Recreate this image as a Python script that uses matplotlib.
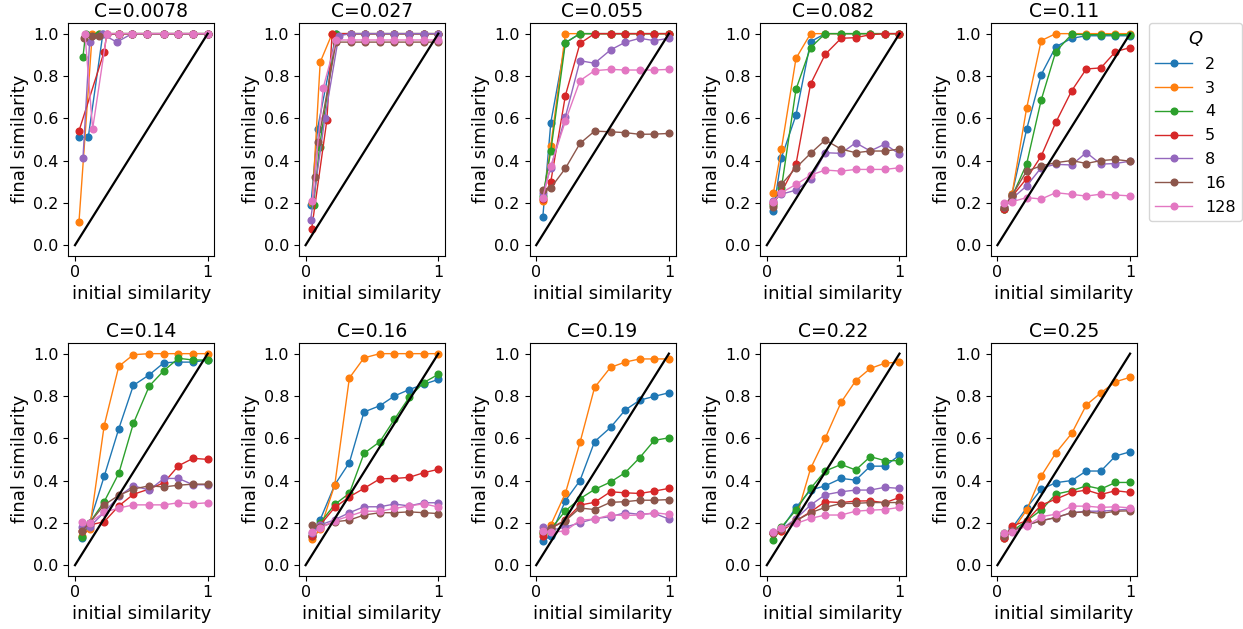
import matplotlib
matplotlib.use("Agg")
import matplotlib.pyplot as plt

# Number of states Q for each curve and the coupling C of each panel
q_values = [2, 3, 4, 5, 8, 16, 128]
c_labels = ["0.0078", "0.027", "0.055", "0.082", "0.11",
            "0.14", "0.16", "0.19", "0.22", "0.25"]
q_colors = ["#1f77b4", "#ff7f0e", "#2ca02c", "#d62728",
            "#9467bd", "#8c564b", "#e377c2"]

# Initial similarity grid shared by most panels
init_grid = [0.05, 0.11, 0.22, 0.33, 0.44, 0.56, 0.67, 0.78, 0.89, 1.0]

# C = 0.0078 (measured initial similarities differ per Q)
init_c0078 = [
    [0.03, 0.10, 0.21, 0.33, 0.43, 0.54, 0.67, 0.78, 0.89, 1.0],
    [0.03, 0.13, 0.18, 0.33, 0.43, 0.54, 0.67, 0.78, 0.89, 1.0],
    [0.06, 0.08, 0.18, 0.33, 0.43, 0.54, 0.67, 0.78, 0.89, 1.0],
    [0.03, 0.22, 0.24, 0.33, 0.43, 0.54, 0.67, 0.78, 0.89, 1.0],
    [0.06, 0.11, 0.20, 0.315, 0.43, 0.54, 0.67, 0.78, 0.89, 1.0],
    [0.07, 0.13, 0.18, 0.33, 0.43, 0.54, 0.67, 0.78, 0.89, 1.0],
    [0.075, 0.133, 0.24, 0.33, 0.43, 0.54, 0.67, 0.78, 0.89, 1.0],
]
final_c0078 = [
    [0.51, 0.51, 1.0, 1.0, 1.0, 1.0, 1.0, 1.0, 1.0, 1.0],
    [0.11, 1.0, 1.0, 1.0, 1.0, 1.0, 1.0, 1.0, 1.0, 1.0],
    [0.89, 1.0, 1.0, 1.0, 1.0, 1.0, 1.0, 1.0, 1.0, 1.0],
    [0.54, 0.915, 1.0, 1.0, 1.0, 1.0, 1.0, 1.0, 1.0, 1.0],
    [0.41, 0.96, 1.0, 0.96, 1.0, 1.0, 1.0, 1.0, 1.0, 1.0],
    [0.98, 0.99, 0.99, 1.0, 1.0, 1.0, 1.0, 1.0, 1.0, 1.0],
    [1.0, 0.55, 1.0, 1.0, 1.0, 1.0, 1.0, 1.0, 1.0, 1.0],
]

# C = 0.027
init_c027 = [
    [0.04, 0.09, 0.23, 0.34, 0.45, 0.56, 0.67, 0.78, 0.89, 1.0],
    [0.05, 0.11, 0.20, 0.34, 0.45, 0.56, 0.67, 0.78, 0.89, 1.0],
    [0.06, 0.105, 0.23, 0.34, 0.45, 0.56, 0.67, 0.78, 0.89, 1.0],
    [0.045, 0.16, 0.20, 0.34, 0.45, 0.56, 0.67, 0.78, 0.89, 1.0],
    [0.038, 0.145, 0.25, 0.34, 0.45, 0.56, 0.67, 0.78, 0.89, 1.0],
    [0.068, 0.095, 0.23, 0.34, 0.45, 0.56, 0.67, 0.78, 0.89, 1.0],
    [0.05, 0.133, 0.23, 0.34, 0.45, 0.56, 0.67, 0.78, 0.89, 1.0],
]
final_c027 = [
    [0.19, 0.55, 1.0, 1.0, 1.0, 1.0, 1.0, 1.0, 1.0, 1.0],
    [0.20, 0.865, 1.0, 1.0, 1.0, 1.0, 1.0, 1.0, 1.0, 1.0],
    [0.19, 0.465, 1.0, 1.0, 1.0, 1.0, 1.0, 1.0, 1.0, 1.0],
    [0.074, 0.59, 1.0, 1.0, 1.0, 1.0, 1.0, 1.0, 1.0, 1.0],
    [0.12, 0.60, 0.99, 1.0, 1.0, 1.0, 1.0, 1.0, 1.0, 1.0],
    [0.32, 0.49, 0.96, 0.96, 0.96, 0.96, 0.96, 0.96, 0.96, 0.96],
    [0.21, 0.745, 0.97, 0.97, 0.97, 0.97, 0.97, 0.97, 0.97, 0.97],
]

final_c055 = [
    [0.134, 0.579, 0.957, 1.0, 1.0, 1.0, 1.0, 1.0, 1.0, 1.0],
    [0.208, 0.47, 1.0, 1.0, 1.0, 1.0, 1.0, 1.0, 1.0, 1.0],
    [0.23, 0.445, 0.957, 1.0, 1.0, 1.0, 1.0, 1.0, 1.0, 1.0],
    [0.22, 0.30, 0.707, 0.954, 1.0, 1.0, 1.0, 1.0, 1.0, 1.0],
    [0.245, 0.366, 0.607, 0.872, 0.86, 0.923, 0.959, 0.978, 0.967, 0.978],
    [0.26, 0.271, 0.363, 0.481, 0.539, 0.536, 0.532, 0.524, 0.525, 0.528],
    [0.225, 0.374, 0.587, 0.778, 0.825, 0.831, 0.828, 0.828, 0.828, 0.831],
]

final_c082 = [
    [0.162, 0.413, 0.615, 0.962, 1.0, 1.0, 1.0, 1.0, 1.0, 1.0],
    [0.248, 0.454, 0.883, 1.0, 1.0, 1.0, 1.0, 1.0, 1.0, 1.0],
    [0.19, 0.27, 0.737, 0.934, 1.0, 1.0, 1.0, 1.0, 1.0, 1.0],
    [0.20, 0.25, 0.383, 0.762, 0.902, 0.978, 0.981, 0.995, 1.0, 1.0],
    [0.21, 0.241, 0.26, 0.311, 0.437, 0.434, 0.484, 0.445, 0.478, 0.43],
    [0.18, 0.287, 0.366, 0.434, 0.497, 0.454, 0.437, 0.445, 0.445, 0.454],
    [0.205, 0.248, 0.287, 0.331, 0.355, 0.35, 0.358, 0.358, 0.358, 0.366],
]

final_c110 = [
    [0.169, 0.241, 0.547, 0.806, 0.938, 0.978, 0.99, 0.99, 0.99, 0.99],
    [0.17, 0.24, 0.647, 0.967, 1.0, 1.0, 1.0, 1.0, 1.0, 1.0],
    [0.17, 0.23, 0.383, 0.686, 0.915, 0.997, 0.995, 0.995, 0.995, 0.995],
    [0.17, 0.23, 0.315, 0.421, 0.58, 0.73, 0.833, 0.838, 0.915, 0.934],
    [0.18, 0.22, 0.28, 0.366, 0.382, 0.379, 0.438, 0.383, 0.386, 0.397],
    [0.18, 0.235, 0.35, 0.375, 0.39, 0.40, 0.386, 0.40, 0.405, 0.397],
    [0.20, 0.205, 0.225, 0.218, 0.248, 0.24, 0.232, 0.241, 0.237, 0.233],
]

final_c140 = [
    [0.13, 0.20, 0.42, 0.645, 0.85, 0.90, 0.957, 0.96, 0.96, 0.97],
    [0.14, 0.17, 0.66, 0.94, 0.995, 1.0, 1.0, 1.0, 1.0, 1.0],
    [0.135, 0.20, 0.30, 0.434, 0.67, 0.847, 0.92, 0.978, 0.97, 0.97],
    [0.16, 0.19, 0.205, 0.28, 0.335, 0.36, 0.39, 0.47, 0.505, 0.50],
    [0.18, 0.18, 0.25, 0.325, 0.375, 0.355, 0.41, 0.41, 0.38, 0.38],
    [0.16, 0.20, 0.285, 0.33, 0.36, 0.375, 0.37, 0.378, 0.383, 0.383],
    [0.205, 0.20, 0.25, 0.27, 0.285, 0.285, 0.285, 0.295, 0.29, 0.295],
]

final_c160 = [
    [0.14, 0.215, 0.38, 0.485, 0.724, 0.754, 0.80, 0.83, 0.855, 0.878],
    [0.125, 0.17, 0.38, 0.885, 0.98, 1.0, 1.0, 1.0, 1.0, 1.0],
    [0.14, 0.20, 0.287, 0.34, 0.528, 0.584, 0.69, 0.793, 0.863, 0.902],
    [0.14, 0.19, 0.273, 0.323, 0.363, 0.408, 0.41, 0.415, 0.437, 0.453],
    [0.15, 0.19, 0.215, 0.248, 0.276, 0.276, 0.289, 0.28, 0.295, 0.295],
    [0.19, 0.18, 0.205, 0.213, 0.237, 0.248, 0.248, 0.252, 0.248, 0.244],
    [0.155, 0.175, 0.21, 0.232, 0.255, 0.255, 0.268, 0.28, 0.29, 0.275],
]

final_c190 = [
    [0.113, 0.14, 0.305, 0.40, 0.584, 0.651, 0.733, 0.78, 0.798, 0.815],
    [0.15, 0.19, 0.34, 0.58, 0.84, 0.935, 0.96, 0.975, 0.975, 0.975],
    [0.15, 0.17, 0.257, 0.314, 0.358, 0.393, 0.437, 0.508, 0.59, 0.602],
    [0.14, 0.175, 0.213, 0.284, 0.297, 0.347, 0.342, 0.339, 0.35, 0.363],
    [0.18, 0.165, 0.18, 0.20, 0.22, 0.229, 0.248, 0.24, 0.245, 0.218],
    [0.16, 0.175, 0.21, 0.27, 0.263, 0.297, 0.30, 0.307, 0.307, 0.31],
    [0.16, 0.155, 0.162, 0.212, 0.218, 0.237, 0.235, 0.237, 0.248, 0.24],
]

final_c220 = [
    [0.15, 0.17, 0.273, 0.355, 0.375, 0.41, 0.402, 0.468, 0.468, 0.52],
    [0.15, 0.16, 0.22, 0.457, 0.60, 0.77, 0.872, 0.93, 0.955, 0.96],
    [0.12, 0.18, 0.26, 0.363, 0.445, 0.476, 0.45, 0.513, 0.494, 0.494],
    [0.15, 0.16, 0.21, 0.252, 0.30, 0.296, 0.303, 0.304, 0.295, 0.32],
    [0.155, 0.17, 0.22, 0.284, 0.333, 0.347, 0.355, 0.355, 0.368, 0.363],
    [0.15, 0.17, 0.21, 0.248, 0.273, 0.292, 0.292, 0.296, 0.296, 0.296],
    [0.155, 0.175, 0.197, 0.221, 0.237, 0.237, 0.255, 0.26, 0.263, 0.273],
]

final_c250 = [
    [0.13, 0.175, 0.271, 0.358, 0.39, 0.40, 0.445, 0.445, 0.516, 0.536],
    [0.126, 0.16, 0.26, 0.421, 0.53, 0.623, 0.757, 0.815, 0.867, 0.888],
    [0.15, 0.16, 0.21, 0.26, 0.336, 0.352, 0.375, 0.36, 0.391, 0.391],
    [0.13, 0.185, 0.21, 0.284, 0.312, 0.344, 0.355, 0.334, 0.352, 0.344],
    [0.14, 0.16, 0.19, 0.21, 0.225, 0.248, 0.255, 0.255, 0.26, 0.265],
    [0.14, 0.16, 0.19, 0.21, 0.225, 0.248, 0.252, 0.244, 0.255, 0.257],
    [0.15, 0.155, 0.185, 0.229, 0.241, 0.279, 0.279, 0.273, 0.276, 0.271],
]

panel_init = [init_c0078, init_c027] + [[init_grid] * len(q_values)] * 8
panel_final = [final_c0078, final_c027, final_c055, final_c082, final_c110,
               final_c140, final_c160, final_c190, final_c220, final_c250]

fig, axes = plt.subplots(2, 5, figsize=(12.43, 6.29), dpi=100)
fig.subplots_adjust(left=0.055, right=0.9145, bottom=0.0847, top=0.964,
                    wspace=0.58, hspace=0.373)

for ax, c_lab, xs_all, ys_all in zip(axes.flat, c_labels, panel_init, panel_final):
    for q, col, xs, ys in zip(q_values, q_colors, xs_all, ys_all):
        ax.plot(xs, ys, "-o", color=col, lw=1.0, markersize=4.8, label=str(q), zorder=2)
    # identity line drawn over the curves
    ax.plot([0, 1], [0, 1], color="black", lw=1.6, zorder=3)
    ax.set_title(f"C={c_lab}", fontsize=13.5, pad=4)
    ax.set_xlabel("initial similarity", fontsize=13, labelpad=3)
    ax.set_ylabel("final similarity", fontsize=13, labelpad=3)
    ax.set_xticks([0, 1])
    ax.set_xticklabels(["0", "1"])
    ax.set_yticks([0.0, 0.2, 0.4, 0.6, 0.8, 1.0])
    ax.set_xlim(-0.05, 1.05)
    ax.set_ylim(-0.05, 1.052)
    ax.tick_params(labelsize=11.5)

axes[0, 4].legend(title="$Q$", loc="upper left", bbox_to_anchor=(1.084, 1.0),
                  borderaxespad=0, fontsize=11.5, title_fontsize=13,
                  labelspacing=0.55, handlelength=2.3)

fig.savefig("out.png", dpi=100)
